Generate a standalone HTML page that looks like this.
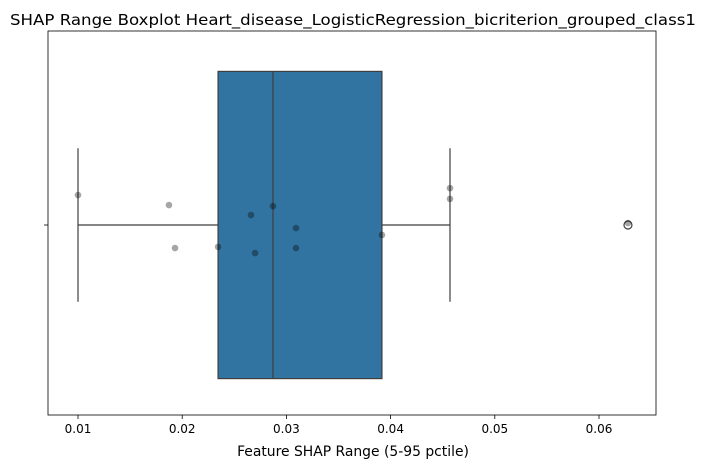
<!DOCTYPE html>
<html><head><meta charset="utf-8"><style>
body{margin:0;background:#fff;}
svg{font-family:"DejaVu Sans","Liberation Sans",sans-serif;}
</style></head><body>
<svg id="chart" width="706" height="470">
<text x="353" y="25" text-anchor="middle" font-size="15" textLength="686" lengthAdjust="spacingAndGlyphs" fill="#000">SHAP Range Boxplot Heart_disease_LogisticRegression_bicriterion_grouped_class1</text>
<g id="plot"></g>
<text x="353" y="456" text-anchor="middle" font-size="13.9" fill="#000">Feature SHAP Range (5-95 pctile)</text>
</svg>
<script>
const xTicks=[0.01,0.02,0.03,0.04,0.05,0.06];
const xTickLabels=["0.01","0.02","0.03","0.04","0.05","0.06"];
const boxStats=[0.0100,0.02344,0.02871,0.03917,0.04570]; // whiskerLow,q1,median,q3,whiskerHigh
const outliers=[0.06278];
const pointValues=[0.0100,0.01873,0.01931,0.02344,0.02660,0.02699,0.02871,0.03092,0.03092,0.03917,0.04570,0.04570,0.06278];
const pointJitter=[-0.078,-0.052,0.060,0.057,-0.026,0.073,-0.049,0.008,0.060,0.026,-0.096,-0.068,-0.005];

const L=48,R=656,T=31,B=415,NS="http://www.w3.org/2000/svg";
const x=v=>78+(v-0.01)*10420;
const yc=225, band=384;
const y=o=>yc+o*band;
const g=document.getElementById('plot');
function el(t,a){const e=document.createElementNS(NS,t);for(const k in a)e.setAttribute(k,a[k]);g.appendChild(e);return e;}
let fr=el('rect',{x:L,y:T,width:R-L,height:B-T,fill:'none',stroke:'#000','stroke-width':0.8});


xTicks.forEach((t,i)=>{
 let ln=el('line',{x1:x(t),x2:x(t),y1:B,y2:B+4,stroke:'#000','stroke-width':0.8});
 
 
 let tx=el('text',{x:x(t),y:B+18,'text-anchor':'middle','font-size':12,fill:'#000'});
 tx.textContent=xTickLabels[i];
 
 
});
let yt=el('line',{x1:L-4,x2:L,y1:yc,y2:yc,stroke:'#000','stroke-width':0.8});


const lc='#3f3f3f',hw=0.4*band,cw=0.2*band;
[[boxStats[0],boxStats[1]],[boxStats[3],boxStats[4]]].forEach(([a,b])=>{
 let w=el('line',{x1:x(a),x2:x(b),y1:yc,y2:yc,stroke:lc,'stroke-width':1.2});
 
 
});
[boxStats[0],boxStats[4]].forEach(v=>{
 let c=el('line',{x1:x(v),x2:x(v),y1:yc-cw,y2:yc+cw,stroke:lc,'stroke-width':1.2});
 
 
});
let box=el('rect',{x:x(boxStats[1]),y:yc-hw,width:x(boxStats[3])-x(boxStats[1]),height:2*hw,fill:'#3274a1',stroke:lc,'stroke-width':1.2});


let med=el('line',{x1:x(boxStats[2]),x2:x(boxStats[2]),y1:yc-hw,y2:yc+hw,stroke:lc,'stroke-width':1.2});


outliers.forEach(v=>{
 let o=el('circle',{cx:x(v),cy:yc,r:4,fill:'none',stroke:lc,'stroke-width':1.2});
 
 
});
pointValues.forEach((v,i)=>{
 let p=el('circle',{cx:x(v),cy:y(pointJitter[i]),r:3.3,fill:'#000','fill-opacity':0.35});
 
 
});
</script>
</body></html>
